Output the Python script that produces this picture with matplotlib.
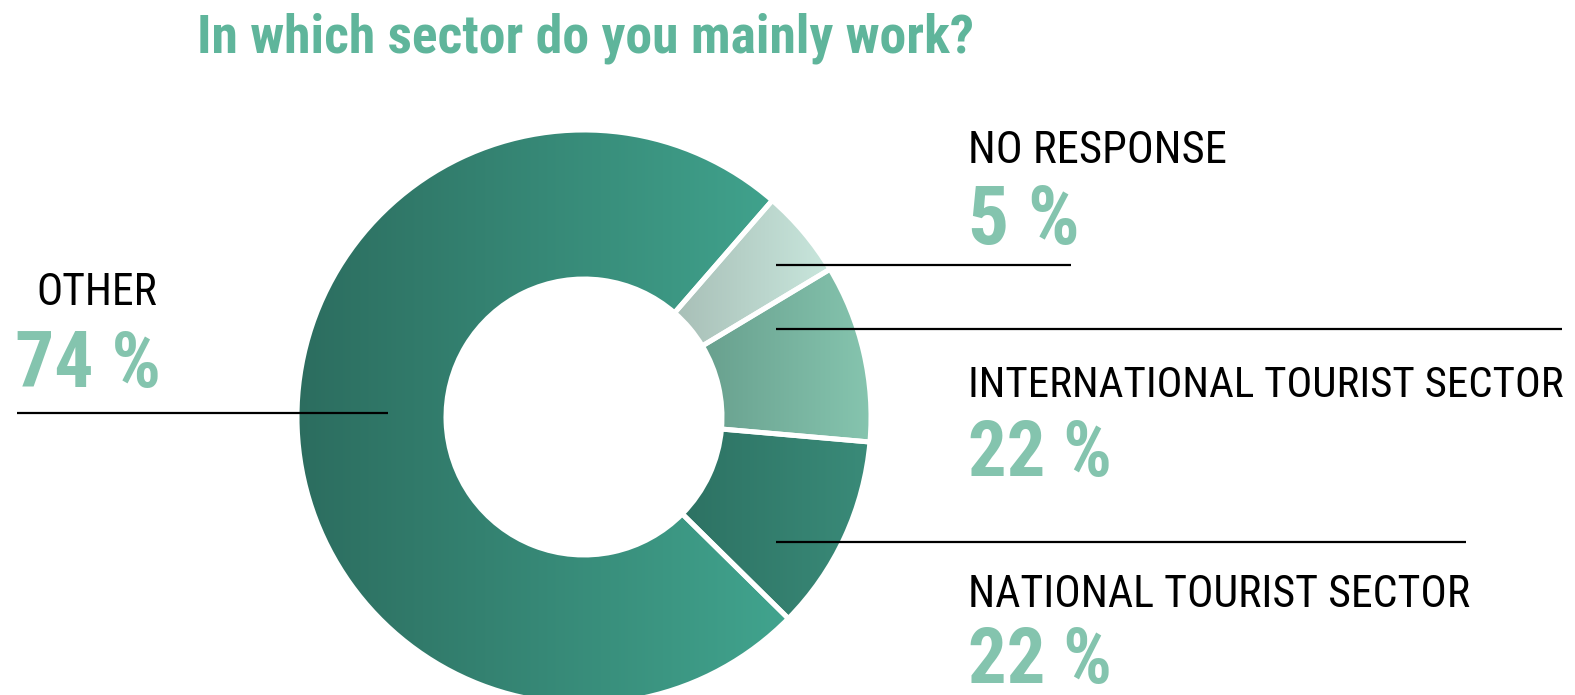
import matplotlib
matplotlib.use("Agg")
import matplotlib.pyplot as plt
import numpy as np
from matplotlib.colors import LinearSegmentedColormap

# survey answers, clockwise from the top right
categories = ['NO RESPONSE', 'INTERNATIONAL TOURIST SECTOR', 'NATIONAL TOURIST SECTOR', 'OTHER']
shares = [5, 10, 11, 74]          # size of each ring segment
stated_pct = [5, 22, 22, 74]      # percentages printed next to the ring

# left -> right colour of the horizontal gradient in each segment
grad_colors = [('#a8bfb7', '#c9e7dd'),
               ('#68a08e', '#86c5af'),
               ('#2d7263', '#3a8b79'),
               ('#2c6d5f', '#41a48e')]

W, H = 1575, 695
title_color = '#5fb59b'
pct_color = '#84c4ae'
narrow = ['Roboto Condensed', 'Open Sans Condensed', 'DejaVu Sans']


def py(y):
    # pixel row (from top) to data y
    return H - y


def fit_text(t, width, renderer):
    # shrink/grow the font so the text spans the given pixel width
    for _ in range(3):
        w = t.get_window_extent(renderer).width
        t.set_fontsize(t.get_fontsize() * width / w)


fig = plt.figure(figsize=(W / 100, H / 100), dpi=100)
ax = fig.add_axes([0, 0, 1, 1])

cx, cy, R, r_in = 584, py(417), 287, 138
wedges, _ = ax.pie(shares, radius=R, center=(cx, cy), startangle=49,
                   counterclock=False,
                   wedgeprops=dict(width=R - r_in, facecolor='none',
                                   edgecolor='white', linewidth=3.6, zorder=3))

# fill every segment with its own left-to-right gradient
for w, (c0, c1) in zip(wedges, grad_colors):
    th = np.radians(np.linspace(w.theta1, w.theta2, 200))
    xs = np.concatenate([cx + R * np.cos(th), cx + r_in * np.cos(th)])
    ys = np.concatenate([cy + R * np.sin(th), cy + r_in * np.sin(th)])
    cmap = LinearSegmentedColormap.from_list('seg', [c0, c1])
    im = ax.imshow(np.linspace(0, 1, 256)[None, :], cmap=cmap, aspect='auto',
                   extent=(xs.min(), xs.max(), ys.min(), ys.max()),
                   interpolation='bilinear', zorder=2)
    im.set_clip_path(w)

ax.set_xlim(0, W)
ax.set_ylim(0, H)
ax.set_aspect('auto')
ax.axis('off')

# leader lines
line_kw = dict(color='black', lw=1.6, zorder=4, solid_capstyle='butt')
ax.plot([17, 388], [py(413), py(413)], **line_kw)
ax.plot([776, 1071], [py(265), py(265)], **line_kw)
ax.plot([776, 1562], [py(329), py(329)], **line_kw)
ax.plot([776, 1466], [py(542), py(542)], **line_kw)

renderer = fig.canvas.get_renderer()

# category names and percentages: (x, name baseline, pct baseline, name width, pct width)
label_pos = [(968, 163, 244, 259, 112),
             (968, 397, 476, 597, 144),
             (968, 607, 683, 502, 144),
             (36, 305, 387, 121, 146)]
for name, pct, (x, yl, yp, wl, wp) in zip(categories, stated_pct, label_pos):
    px = 15 if name == 'OTHER' else x
    t = ax.text(x, py(yl), name, family=narrow, fontstretch='condensed',
                fontsize=30, color='black', ha='left', va='baseline', zorder=5)
    fit_text(t, wl, renderer)
    t = ax.text(px, py(yp), f'{pct} %', family=narrow, fontstretch='condensed',
                fontsize=50, fontweight='bold', color=pct_color,
                ha='left', va='baseline', zorder=5)
    fit_text(t, wp, renderer)

t = ax.text(197, py(53), 'In which sector do you mainly work?', family=narrow,
            fontstretch='condensed', fontsize=33, fontweight='bold',
            color=title_color, ha='left', va='baseline')
fit_text(t, 776, renderer)

fig.savefig('out.png', dpi=100, facecolor='white')
